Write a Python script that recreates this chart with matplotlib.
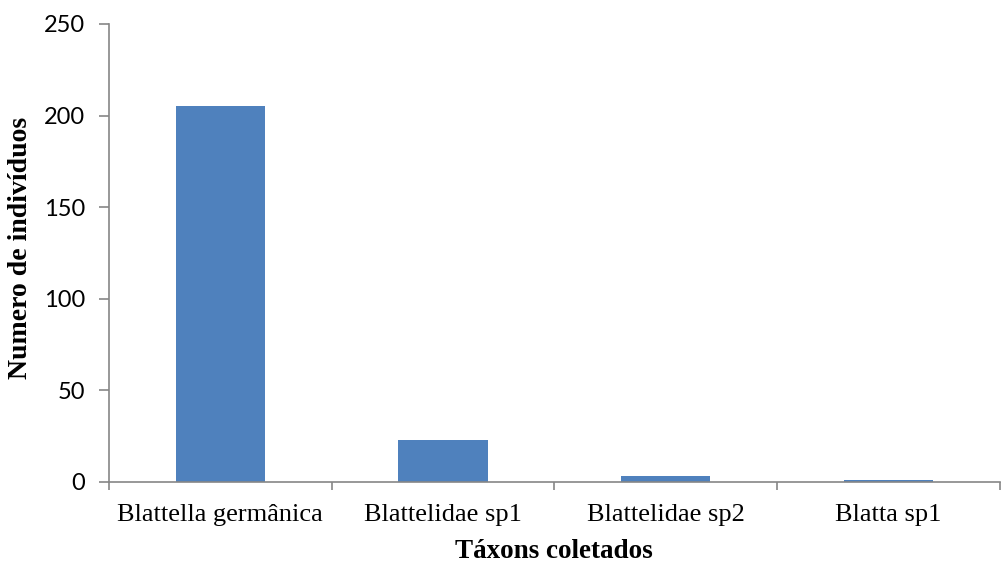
import matplotlib.pyplot as plt
import numpy as np

taxa = ["Blattella germânica", "Blattelidae sp1", "Blattelidae sp2", "Blatta sp1"]
counts = [205, 23, 3, 1]
y_ticks = [0, 50, 100, 150, 200, 250]

fig = plt.figure(figsize=(10.04, 5.63), dpi=100)
ax = fig.add_axes([0.1086, 0.1439, 0.887, 0.8135])

x = np.arange(len(taxa))
ax.bar(x, counts, width=0.4, color='#4F81BD')

ax.set_xlim(-0.5, len(taxa) - 0.5)
ax.set_ylim(0, 250)
ax.set_yticks(y_ticks)
ax.set_yticklabels([str(v) for v in y_ticks], family='Lato', fontsize=17)

ax.set_xticks(x)
ax.set_xticklabels(taxa, family='Liberation Serif', fontsize=19)
ax.set_xticks(np.arange(len(taxa) + 1) - 0.5, minor=True)
ax.tick_params(axis='x', which='major', length=0, pad=16)
ax.tick_params(axis='x', which='minor', length=6, color='#868686', width=1.2)
ax.tick_params(axis='y', length=7, color='#868686', width=1.2, pad=10)

for s in ['top', 'right']:
    ax.spines[s].set_visible(False)
for s in ['left', 'bottom']:
    ax.spines[s].set_color('#868686')
    ax.spines[s].set_linewidth(1.2)

ax.set_xlabel('Táxons coletados', family='Liberation Serif', fontsize=19.5,
              fontweight='bold', labelpad=9)
ax.set_ylabel('Numero de indivíduos', family='Liberation Serif', fontsize=20,
              fontweight='bold')
ax.yaxis.set_label_coords(-0.085, 0.51)

fig.savefig('out.png', dpi=100)
